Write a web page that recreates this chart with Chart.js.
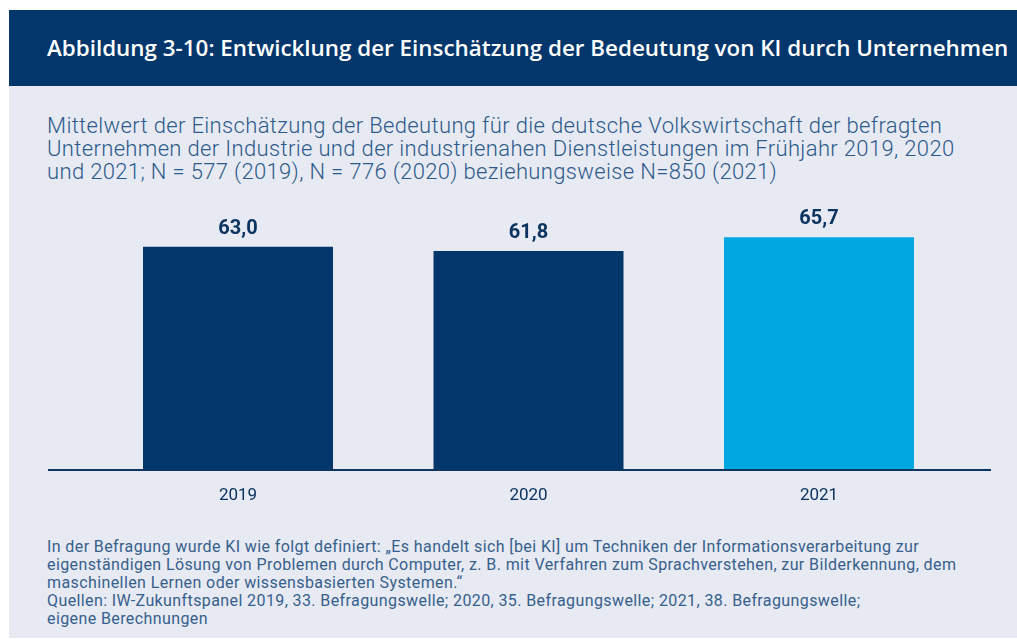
<!DOCTYPE html>
<html><head><meta charset="utf-8">
<script src="https://cdn.jsdelivr.net/npm/chart.js@4.4.1/dist/chart.umd.min.js"></script>
<style>
html,body{margin:0;padding:0;background:#fff;width:1017px;height:639px;overflow:hidden;}
#header{position:absolute;left:9px;top:10px;width:1008px;height:76px;background:#03366a;}
#title{position:absolute;left:38px;top:0;line-height:76px;color:#fff;font-family:"Open Sans";font-weight:600;font-size:22.4px;white-space:nowrap;}
#panel{position:absolute;left:9px;top:86px;width:1008px;height:552px;background:#e7eaf3;}
#sub{position:absolute;left:47px;top:114px;color:#2c5a8a;font-family:Roboto;font-weight:300;font-size:22px;letter-spacing:0.35px;line-height:23px;white-space:nowrap;}
#foot{position:absolute;left:47px;top:538px;color:#36608c;font-family:Roboto;font-weight:400;font-size:16px;letter-spacing:0.4px;line-height:18px;white-space:nowrap;}
#wrap{position:absolute;left:0;top:200px;width:1017px;height:310px;}
</style></head>
<body>
<div id="header"><div id="title">Abbildung 3-10: Entwicklung der Einschätzung der Bedeutung von KI durch Unternehmen</div></div>
<div id="panel"></div>
<div id="sub">Mittelwert der Einschätzung der Bedeutung für die deutsche Volkswirtschaft der befragten<br>Unternehmen der Industrie und der industrienahen Dienstleistungen im Frühjahr 2019, 2020<br>und 2021; N = 577 (2019), N = 776 (2020) beziehungsweise N=850 (2021)</div>
<div id="wrap"><canvas id="c" width="1017" height="310"></canvas></div>
<div id="foot">In der Befragung wurde KI wie folgt definiert: „Es handelt sich [bei KI] um Techniken der Informationsverarbeitung zur<br>eigenständigen Lösung von Problemen durch Computer, z. B. mit Verfahren zum Sprachverstehen, zur Bilderkennung, dem<br>maschinellen Lernen oder wissensbasierten Systemen.“<br>Quellen: IW-Zukunftspanel 2019, 33. Befragungswelle; 2020, 35. Befragungswelle; 2021, 38. Befragungswelle;<br>eigene Berechnungen</div>
<script>
const categories = ["2019", "2020", "2021"];
const values = [63.0, 61.8, 65.7];
const barColors = ["#03366a", "#03366a", "#00a8e2"];

const labelPlugin = {
  id: "valueLabels",
  afterDatasetsDraw(chart) {
    const ctx = chart.ctx;
    const meta = chart.getDatasetMeta(0);
    ctx.save();
    ctx.strokeStyle = "#0b3460";
    ctx.lineWidth = 2;
    ctx.beginPath();
    ctx.moveTo(48, chart.chartArea.bottom);
    ctx.lineTo(991, chart.chartArea.bottom);
    ctx.stroke();
    ctx.fillStyle = "#0b3460";
    ctx.font = "bold 20px Roboto";
    ctx.textAlign = "center";
    ctx.textBaseline = "middle";
    meta.data.forEach((bar, i) => {
      const v = chart.data.datasets[0].data[i];
      ctx.fillText(v.toFixed(1).replace(".", ","), bar.x, bar.y - 18);
    });
    ctx.restore();
  }
};

new Chart(document.getElementById("c"), {
  type: "bar",
  data: {
    labels: categories,
    datasets: [{
      data: values,
      backgroundColor: barColors,
      borderWidth: 0,
      categoryPercentage: 1,
      barPercentage: 0.654
    }]
  },
  options: {
    responsive: false,
    animation: false,
    layout: { padding: { left: 92.75, right: 52.75, top: 22, bottom: 0 } },
    plugins: { legend: { display: false }, tooltip: { enabled: false } },
    scales: {
      y: { display: false, min: 0, max: 70 },
      x: {
        grid: { display: false },
        border: { display: false },
        ticks: { color: "#0b3460", font: { family: "Roboto", size: 17 }, padding: 8 },
        afterFit(scale) { scale.height = 40; }
      }
    }
  },
  plugins: [labelPlugin]
});
</script>
</body></html>
